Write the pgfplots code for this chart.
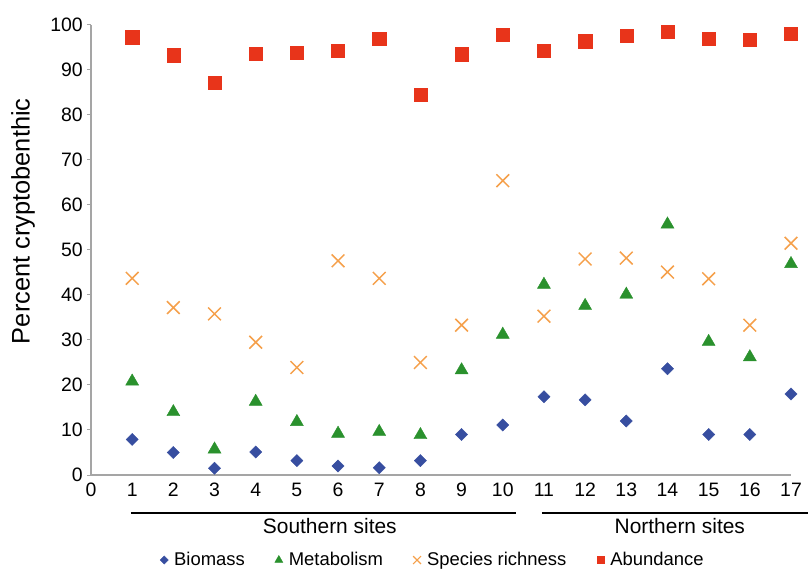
\documentclass[border=0pt]{standalone}
\usepackage{fontspec}
\setmainfont{Liberation Sans}
\usepackage{pgfplots}
\pgfplotsset{compat=1.18}
\definecolor{cbio}{RGB}{55,78,160}
\definecolor{cmet}{RGB}{42,145,45}
\definecolor{cspe}{RGB}{245,160,75}
\definecolor{cabu}{RGB}{232,52,26}
\definecolor{caxis}{RGB}{165,165,165}
\pgfplotsset{myleg/.style={legend image code/.code={\draw[mark repeat=2,mark phase=2,##1] plot coordinates {(0bp,0bp) (4bp,0bp) (8bp,0bp)};\path[draw=none,fill=none] (-2bp,0bp) (12bp,0bp);}}}
\begin{document}
\begin{tikzpicture}
\useasboundingbox (0,0) rectangle (808bp,570bp);
\begin{axis}[
  at={(91bp,95bp)}, anchor=south west,
  scale only axis, width=700bp, height=450bp,
  xmin=0, xmax=17, ymin=0, ymax=100,
  axis x line=bottom, axis y line=left,
  axis line style={-, draw=caxis, line width=1.3bp},
  xtick={0,...,17}, ytick={0,10,...,100},
  tick style={draw=caxis, line width=1bp},
  xtick style={draw=none},
  tick align=outside,
  major tick length=4bp,
  ticklabel style={font=\fontsize{19.5}{20}\selectfont},
  /pgf/number format/assume math mode=true,
  yticklabel style={inner sep=0pt, xshift=-4bp},
  xticklabel style={inner sep=0pt, yshift=-4bp},
  ylabel={Percent cryptobenthic},
  every axis y label/.style={at={(axis description cs:-0.097,0.564)}, rotate=90, anchor=center, font=\fontsize{25.5}{27}\selectfont},
  clip=false,
  legend columns=4,
  legend style={at={(axis description cs:0.487,-0.189)}, anchor=center, draw=none, fill=none,
    font=\fontsize{18.5}{20}\selectfont, /tikz/every even column/.append style={column sep=26bp}},
]
\addlegendimage{only marks, mark=square*, mark options={rotate=45}, mark size=2.9bp, color=cbio, myleg}
\addlegendentry{Biomass}
\addlegendimage{only marks, mark=triangle*, mark size=4.6bp, color=cmet, myleg}
\addlegendentry{Metabolism}
\addlegendimage{only marks, mark=x, mark size=5.5bp, line width=1.2bp, color=cspe, myleg}
\addlegendentry{Species richness}
\addlegendimage{only marks, mark=square*, mark size=3.5bp, color=cabu, myleg}
\addlegendentry{Abundance}

\addplot[forget plot, only marks, mark=square*, mark size=4.3bp, mark options={rotate=45}, color=cbio] coordinates {
(1,7.9) (2,5.0) (3,1.5) (4,5.1) (5,3.2) (6,2.0) (7,1.6) (8,3.2) (9,9.0) (10,11.1)
(11,17.4) (12,16.7) (13,12.0) (14,23.6) (15,9.0) (16,9.0) (17,18.0)};
\addplot[forget plot, only marks, mark=triangle*, mark size=7.5bp, color=cmet] coordinates {
(1,20.8) (2,14.0) (3,5.7) (4,16.3) (5,11.8) (6,9.2) (7,9.6) (8,8.9) (9,23.3) (10,31.2)
(11,42.3) (12,37.6) (13,40.1) (14,55.7) (15,29.6) (16,26.2) (17,46.9)};
\addplot[forget plot, only marks, mark=x, mark size=9bp, line width=1.5bp, color=cspe] coordinates {
(1,43.7) (2,37.2) (3,35.8) (4,29.5) (5,23.9) (6,47.6) (7,43.7) (8,25.0) (9,33.3) (10,65.4)
(11,35.3) (12,48.0) (13,48.2) (14,45.1) (15,43.6) (16,33.3) (17,51.5)};
\addplot[forget plot, only marks, mark=square*, mark size=6.6bp, color=cabu] coordinates {
(1,97.3) (2,93.3) (3,87.2) (4,93.6) (5,93.8) (6,94.3) (7,97.0) (8,84.5) (9,93.5) (10,97.8)
(11,94.2) (12,96.4) (13,97.6) (14,98.5) (15,97.0) (16,96.7) (17,98.1)};

\draw[line width=2.2bp, black] (axis cs:0.97,-8.44) -- (axis cs:10.32,-8.44);
\draw[line width=2.2bp, black] (axis cs:10.95,-8.44) -- (axis cs:17.6,-8.44);
\node[font=\fontsize{21}{22}\selectfont] at (axis cs:5.80,-11.33) {Southern sites};
\node[font=\fontsize{21}{22}\selectfont] at (axis cs:14.30,-11.33) {Northern sites};
\end{axis}
\end{tikzpicture}
\end{document}
